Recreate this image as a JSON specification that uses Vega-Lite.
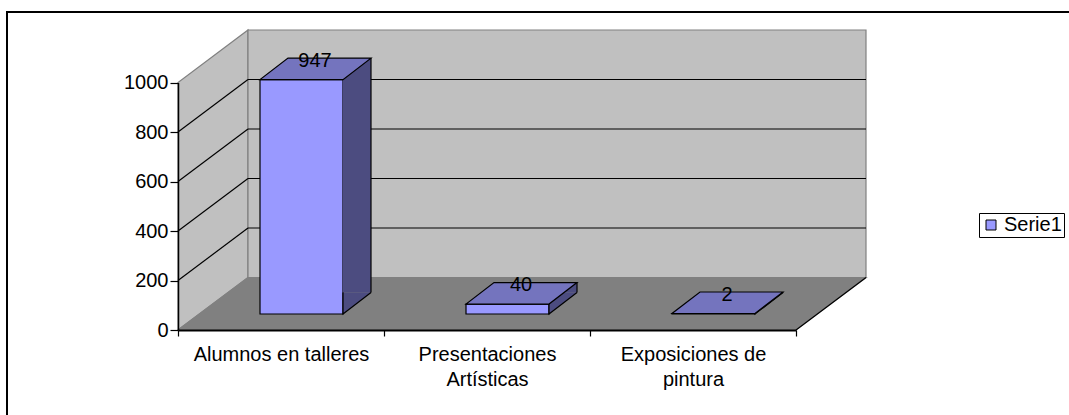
{
  "$schema": "https://vega.github.io/schema/vega-lite/v6.json",
  "width": 1070,
  "height": 410,
  "autosize": {"type": "none"},
  "padding": {"left": 7, "top": 12, "right": -8, "bottom": -7},
  "background": "white",
  "config": {
    "view": {"stroke": "black", "strokeWidth": 2, "fill": "white"},
    "font": "Liberation Sans"
  },
  "datasets": {
    "series": [
      {"categoria": "Alumnos en talleres", "valor": 947},
      {"categoria": "Presentaciones Artísticas", "valor": 40},
      {"categoria": "Exposiciones de pintura", "valor": 2}
    ],
    "ticks": [{"v": 200}, {"v": 400}, {"v": 600}, {"v": 800}],
    "one": [{}]
  },
  "data": {"name": "series"},
  "layer": [
    {
      "data": {"name": "one"},
      "mark": {"type": "point", "shape": "M0,0 L0,-247.5 L70,-300 L70,-52.5 Z", "size": 4, "filled": true, "fill": "#C0C0C0", "stroke": "#808080", "strokeWidth": 1.2, "opacity": 1},
      "encoding": {
        "x": {"datum": "Alumnos en talleres", "bandPosition": 0},
        "y": {"datum": 0}
      }
    },
    {
      "data": {"name": "one"},
      "mark": {"type": "rect", "fill": "#C0C0C0", "stroke": "#808080", "strokeWidth": 1.2, "xOffset": 70, "x2Offset": 70, "yOffset": -52.5, "y2Offset": -52.5},
      "encoding": {
        "x": {"datum": "Alumnos en talleres", "bandPosition": 0},
        "x2": {"datum": "Exposiciones de pintura", "bandPosition": 1},
        "y": {"datum": 0},
        "y2": {"datum": 1000}
      }
    },
    {
      "data": {"name": "one"},
      "mark": {"type": "point", "shape": "M0,0 L618,0 L688,-52.5 L70,-52.5 Z", "size": 4, "filled": true, "fill": "#808080", "stroke": "#808080", "strokeWidth": 1.2, "opacity": 1},
      "encoding": {
        "x": {"datum": "Alumnos en talleres", "bandPosition": 0},
        "y": {"datum": 0}
      }
    },
    {
      "data": {"name": "ticks"},
      "mark": {"type": "rule", "color": "black", "strokeWidth": 1.2, "xOffset": 70, "x2Offset": 70, "yOffset": -52.5},
      "encoding": {
        "x": {"datum": "Alumnos en talleres", "bandPosition": 0},
        "x2": {"datum": "Exposiciones de pintura", "bandPosition": 1},
        "y": {"field": "v", "type": "quantitative"}
      }
    },
    {
      "data": {"name": "ticks"},
      "mark": {"type": "rule", "color": "black", "strokeWidth": 1.2, "x2Offset": 70, "y2Offset": -52.5},
      "encoding": {
        "x": {"datum": "Alumnos en talleres", "bandPosition": 0},
        "x2": {"datum": "Alumnos en talleres", "bandPosition": 0},
        "y": {"field": "v", "type": "quantitative"},
        "y2": {"field": "v"}
      }
    },
    {
      "data": {"name": "one"},
      "mark": {"type": "point", "shape": "M0,0 L70,-52.5", "size": 4, "filled": false, "stroke": "black", "strokeWidth": 1.2, "opacity": 1},
      "encoding": {
        "x": {"datum": "Exposiciones de pintura", "bandPosition": 1},
        "y": {"datum": 0}
      }
    },
    {
      "mark": {"type": "bar", "width": 83, "xOffset": 20.5, "yOffset": -16, "y2Offset": -16, "stroke": "black", "strokeWidth": 1.2},
      "encoding": {
        "x": {
          "field": "categoria", "type": "nominal", "sort": null,
          "scale": {"domain": ["Alumnos en talleres", "Presentaciones Artísticas", "Exposiciones de pintura"], "range": [171, 789], "paddingInner": 0, "paddingOuter": 0},
          "axis": {
            "title": null, "offset": -92, "tickBand": "extent", "domainColor": "black", "domainWidth": 2,
            "tickColor": "black", "tickWidth": 1.2, "tickSize": 6, "labelFontSize": 20, "labelColor": "black",
            "labelPadding": 8, "labelAngle": 0, "labelAlign": "center", "labelBaseline": "top", "labelLineHeight": 25, "labelBound": false, "labelOverlap": false,
            "labelExpr": "datum.value == 'Presentaciones Artísticas' ? ['Presentaciones', 'Artísticas'] : datum.value == 'Exposiciones de pintura' ? ['Exposiciones de', 'pintura'] : datum.label",
            "zindex": 1
          }
        },
        "y": {
          "field": "valor", "type": "quantitative", "stack": null,
          "scale": {"domain": [0, 1000], "range": [318, 70.5], "nice": false, "zero": true},
          "axis": {
            "title": null, "values": [0, 200, 400, 600, 800, 1000], "format": "d", "offset": -171, "domainColor": "black", "domainWidth": 1.5,
            "tickColor": "black", "tickWidth": 1.2, "tickSize": 8, "labelFontSize": 20, "labelColor": "black", "labelPadding": 2,
            "grid": false, "zindex": 1
          }
        },
        "y2": {"datum": 0},
        "fill": {
          "datum": "Serie1", "type": "nominal",
          "scale": {"range": ["#9999FF"]},
          "legend": {
            "title": null, "orient": "none", "legendX": 972, "legendY": 201, "strokeColor": "black", "fillColor": "white",
            "padding": 2, "symbolType": "square", "symbolSize": 100, "symbolStrokeColor": "black", "symbolStrokeWidth": 1,
            "labelFontSize": 20, "labelColor": "black", "labelOffset": 3, "labelExpr": "datum.label + '    '"
          }
        }
      }
    },
    {
      "mark": {"type": "bar", "width": 28, "xOffset": 76, "yOffset": -37.5, "y2Offset": -37.5, "fill": "#4C4C80", "strokeWidth": 0},
      "encoding": {
        "x": {"field": "categoria", "type": "nominal"},
        "y": {"field": "valor", "type": "quantitative", "stack": null},
        "y2": {"datum": 0}
      }
    },
    {
      "mark": {"type": "point", "shape": "M0,-21.5 L0,0 L28,-21.5", "size": 4, "filled": true, "fill": "#4C4C80", "stroke": "black", "strokeWidth": 1.2, "opacity": 1, "xOffset": 62, "yOffset": -16},
      "encoding": {
        "x": {"field": "categoria", "type": "nominal"},
        "y": {"datum": 0}
      }
    },
    {
      "mark": {"type": "rule", "color": "black", "strokeWidth": 1.2, "xOffset": 90, "yOffset": -37.5, "y2Offset": -37.5},
      "encoding": {
        "x": {"field": "categoria", "type": "nominal"},
        "y": {"field": "valor", "type": "quantitative", "stack": null},
        "y2": {"datum": 0}
      }
    },
    {
      "mark": {"type": "point", "shape": "M-41.5,0 L41.5,0 L69.5,-21.5 L-13.5,-21.5 Z", "size": 4, "filled": true, "fill": "#7474BE", "stroke": "black", "strokeWidth": 1.2, "opacity": 1, "xOffset": 20.5, "yOffset": -16},
      "encoding": {
        "x": {"field": "categoria", "type": "nominal"},
        "y": {"field": "valor", "type": "quantitative", "stack": null}
      }
    },
    {
      "mark": {"type": "text", "fontSize": 20, "color": "black", "baseline": "middle", "align": "center", "xOffset": 34, "yOffset": -35},
      "encoding": {
        "x": {"field": "categoria", "type": "nominal"},
        "y": {"field": "valor", "type": "quantitative", "stack": null},
        "text": {"field": "valor", "type": "quantitative"}
      }
    }
  ]
}
